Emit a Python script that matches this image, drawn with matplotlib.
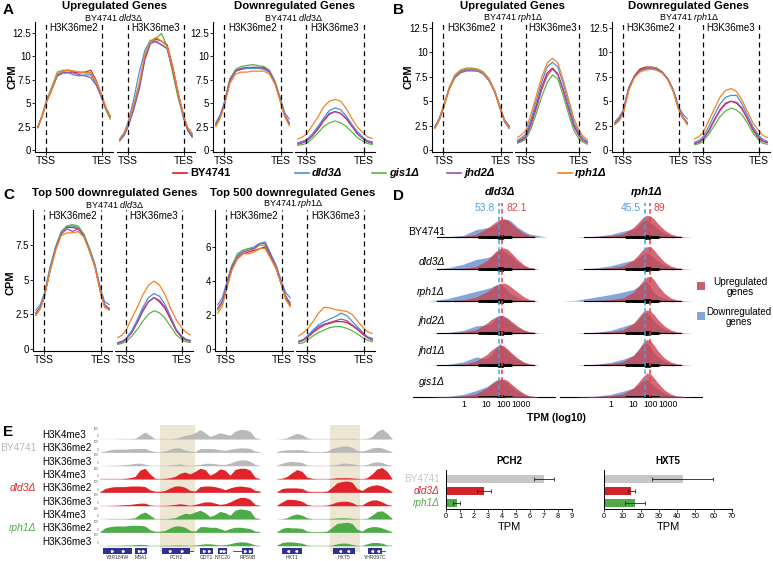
import numpy as np
import matplotlib
matplotlib.use('Agg')
import matplotlib.pyplot as plt
from matplotlib.patches import Rectangle

plt.rcParams['font.family'] = ['Liberation Sans', 'DejaVu Sans']
plt.rcParams['mathtext.fontset'] = 'custom'
plt.rcParams['mathtext.rm'] = 'Liberation Sans'
plt.rcParams['mathtext.it'] = 'Liberation Sans:italic'
plt.rcParams['mathtext.bf'] = 'Liberation Sans:bold'

# ---------------- data ----------------
STRAINS = ['BY4741', 'dld3Δ', 'gis1Δ', 'jhd2Δ', 'rph1Δ']
COLORS = ['#e41a1c', '#4a8fdb', '#5cb545', '#9a4fb0', '#f58220']

# metagene position (0 = TSS, 1 = TES)
PX = [-0.15, -0.07, 0.0, 0.1, 0.2, 0.3, 0.4, 0.5, 0.6, 0.7, 0.8, 0.9, 1.0, 1.07, 1.15]

# CPM profiles, rows in STRAINS order
A_UP_ME2 = [
    [2.4, 3.7, 5.1, 6.5, 8.0, 8.4, 8.5, 8.3, 8.2, 8.3, 8.5, 7.4, 5.8, 4.5, 3.6],
    [2.5, 3.7, 5.2, 6.6, 7.9, 8.2, 8.2, 8.0, 7.9, 8.0, 8.0, 7.1, 5.6, 4.4, 3.5],
    [2.4, 3.6, 5.1, 6.7, 8.3, 8.5, 8.5, 8.4, 8.3, 8.3, 8.2, 7.3, 5.6, 4.3, 3.3],
    [2.4, 3.6, 5.0, 6.4, 7.9, 8.2, 8.3, 8.2, 8.0, 7.9, 7.7, 6.9, 5.5, 4.5, 3.6],
    [2.4, 3.6, 5.1, 6.5, 8.1, 8.4, 8.5, 8.4, 8.3, 8.2, 8.2, 7.3, 5.8, 4.6, 3.6]]
A_UP_ME3 = [
    [1.1, 1.7, 2.7, 4.6, 6.8, 9.8, 11.5, 11.8, 11.6, 11.2, 8.9, 6.0, 3.6, 2.3, 1.6],
    [1.2, 1.9, 3.0, 5.4, 8.3, 10.6, 11.7, 11.5, 11.2, 10.8, 8.4, 5.7, 3.3, 2.1, 1.4],
    [1.0, 1.6, 2.6, 4.5, 6.9, 10.0, 11.5, 11.9, 12.4, 11.0, 8.2, 5.5, 3.4, 2.3, 1.6],
    [1.0, 1.6, 2.5, 4.3, 6.5, 9.6, 11.3, 11.6, 11.2, 10.8, 8.6, 5.8, 3.4, 2.1, 1.4],
    [1.1, 1.8, 2.8, 4.9, 7.2, 10.2, 11.6, 12.0, 11.6, 11.0, 8.8, 6.0, 3.6, 2.4, 1.8]]
A_DOWN_ME2 = [
    [2.7, 3.6, 4.9, 7.4, 8.4, 8.6, 8.7, 8.8, 8.8, 8.7, 8.3, 7.1, 5.2, 3.7, 2.9],
    [2.9, 3.8, 5.1, 7.6, 8.5, 8.7, 8.7, 8.7, 8.7, 8.6, 8.3, 7.2, 5.4, 4.0, 3.3],
    [2.7, 3.6, 4.9, 7.5, 8.6, 8.9, 9.0, 9.1, 9.0, 8.9, 8.5, 7.3, 5.2, 3.7, 2.8],
    [2.7, 3.6, 4.9, 7.4, 8.4, 8.7, 8.8, 8.8, 8.8, 8.8, 8.4, 7.2, 5.1, 3.7, 2.8],
    [2.5, 3.4, 4.7, 7.1, 8.1, 8.3, 8.3, 8.4, 8.4, 8.4, 8.1, 7.0, 5.0, 3.6, 2.6]]
A_DOWN_ME3 = [
    [0.65, 0.8, 0.95, 1.5, 2.2, 3.1, 3.8, 4.1, 3.9, 3.3, 2.5, 1.7, 1.2, 0.9, 0.75],
    [0.8, 0.95, 1.1, 1.7, 2.5, 3.4, 4.2, 4.5, 4.3, 3.6, 2.7, 1.9, 1.3, 1.0, 0.9],
    [0.5, 0.6, 0.7, 1.2, 1.8, 2.5, 2.9, 3.1, 2.9, 2.5, 1.9, 1.3, 0.9, 0.7, 0.6],
    [0.65, 0.8, 0.95, 1.5, 2.3, 3.2, 3.9, 4.1, 3.9, 3.4, 2.5, 1.7, 1.15, 0.9, 0.75],
    [1.17, 1.4, 1.7, 2.6, 3.5, 4.6, 5.2, 5.4, 5.2, 4.4, 3.3, 2.4, 1.8, 1.4, 1.25]]
B_UP_ME2 = [
    [2.3, 3.2, 4.4, 6.3, 7.5, 8.1, 8.2, 8.3, 8.2, 7.9, 7.2, 6.0, 4.2, 3.0, 2.4],
    [2.4, 3.3, 4.5, 6.3, 7.4, 7.9, 8.1, 8.1, 8.1, 7.8, 7.1, 6.0, 4.3, 3.1, 2.5],
    [2.3, 3.2, 4.4, 6.4, 7.7, 8.2, 8.4, 8.4, 8.3, 8.0, 7.3, 6.0, 4.1, 2.9, 2.2],
    [2.3, 3.1, 4.3, 6.2, 7.5, 8.0, 8.2, 8.2, 8.1, 7.8, 7.1, 5.9, 4.1, 2.9, 2.3],
    [2.2, 3.1, 4.3, 6.3, 7.6, 8.1, 8.3, 8.3, 8.2, 7.9, 7.2, 6.0, 4.2, 3.0, 2.3]]
B_UP_ME3 = [
    [0.9, 1.1, 1.4, 2.8, 4.6, 6.5, 7.9, 8.4, 7.8, 6.2, 4.3, 2.5, 1.5, 1.0, 0.8],
    [1.0, 1.3, 1.6, 3.2, 5.1, 7.0, 8.5, 9.0, 8.5, 6.8, 4.8, 2.8, 1.7, 1.2, 0.9],
    [0.7, 0.9, 1.1, 2.2, 3.8, 5.5, 6.9, 7.7, 7.3, 5.6, 3.7, 2.0, 1.1, 0.8, 0.6],
    [0.8, 1.0, 1.3, 2.6, 4.3, 6.2, 7.6, 8.3, 7.7, 6.1, 4.2, 2.4, 1.4, 1.0, 0.75],
    [1.3, 1.6, 2.0, 3.7, 5.6, 7.5, 8.9, 9.4, 8.9, 7.2, 5.2, 3.2, 2.0, 1.4, 1.1]]
B_DOWN_ME2 = [
    [2.7, 3.2, 3.9, 6.3, 7.6, 8.3, 8.5, 8.5, 8.4, 8.0, 7.3, 6.1, 4.2, 3.4, 2.8],
    [2.9, 3.4, 4.1, 6.4, 7.5, 8.1, 8.3, 8.3, 8.2, 7.9, 7.3, 6.2, 4.4, 3.7, 3.2],
    [2.7, 3.1, 3.8, 6.2, 7.5, 8.2, 8.4, 8.5, 8.4, 8.0, 7.3, 6.0, 4.1, 3.3, 2.7],
    [2.7, 3.1, 3.9, 6.3, 7.5, 8.2, 8.4, 8.4, 8.3, 8.0, 7.3, 6.1, 4.2, 3.4, 2.7],
    [2.6, 3.0, 3.7, 6.1, 7.4, 8.0, 8.2, 8.3, 8.2, 7.9, 7.2, 6.0, 4.1, 3.3, 2.6]]
B_DOWN_ME3 = [
    [0.7, 0.85, 1.15, 2.0, 3.1, 4.1, 4.8, 5.0, 4.8, 4.2, 3.1, 2.0, 1.2, 0.9, 0.75],
    [0.8, 1.0, 1.35, 2.4, 3.6, 4.7, 5.4, 5.6, 5.6, 4.7, 3.5, 2.3, 1.5, 1.1, 0.9],
    [0.55, 0.65, 0.9, 1.6, 2.5, 3.4, 4.0, 4.3, 4.1, 3.6, 2.7, 1.7, 1.0, 0.7, 0.6],
    [0.65, 0.8, 1.1, 1.9, 3.0, 4.0, 4.7, 5.0, 4.9, 4.3, 3.2, 2.1, 1.3, 0.95, 0.8],
    [1.15, 1.4, 1.8, 3.0, 4.2, 5.4, 6.1, 6.3, 6.0, 5.1, 3.9, 2.7, 2.0, 1.5, 1.3]]
C_DLD3_ME2 = [
    [2.5, 3.0, 3.8, 5.7, 7.3, 8.4, 8.8, 8.8, 8.7, 8.2, 7.2, 6.0, 4.1, 3.1, 2.9],
    [2.8, 3.2, 4.0, 5.9, 7.4, 8.5, 8.9, 8.9, 8.8, 8.3, 7.3, 6.1, 4.3, 3.4, 3.2],
    [2.5, 2.9, 3.8, 5.7, 7.3, 8.4, 8.9, 9.0, 8.9, 8.3, 7.2, 6.0, 4.0, 3.1, 2.8],
    [2.6, 3.0, 3.8, 5.6, 7.2, 8.3, 8.7, 8.5, 8.7, 8.2, 7.1, 5.9, 4.1, 3.2, 2.9],
    [2.4, 2.9, 3.7, 5.6, 7.1, 8.2, 8.4, 8.4, 8.5, 8.1, 7.1, 5.9, 4.0, 3.0, 2.8]]
C_DLD3_ME3 = [
    [0.4, 0.5, 0.7, 1.2, 1.9, 2.8, 3.4, 3.7, 3.4, 2.9, 2.1, 1.3, 0.8, 0.65, 0.55],
    [0.45, 0.55, 0.75, 1.3, 2.1, 3.0, 3.7, 4.0, 3.8, 3.2, 2.3, 1.4, 0.9, 0.7, 0.6],
    [0.3, 0.4, 0.5, 0.9, 1.4, 2.0, 2.5, 2.75, 2.6, 2.2, 1.6, 1.0, 0.65, 0.5, 0.45],
    [0.4, 0.5, 0.7, 1.15, 1.9, 2.7, 3.4, 3.7, 3.5, 3.0, 2.2, 1.3, 0.85, 0.65, 0.55],
    [0.8, 1.0, 1.35, 2.2, 3.0, 3.9, 4.6, 4.9, 4.6, 3.9, 2.9, 2.1, 1.5, 1.2, 1.0]]
C_RPH1_ME2 = [
    [2.3, 2.7, 3.5, 4.7, 5.3, 5.6, 5.7, 5.8, 5.9, 6.0, 5.4, 4.7, 3.7, 3.0, 2.6],
    [2.6, 3.0, 3.8, 4.9, 5.5, 5.8, 5.9, 6.0, 6.2, 6.3, 5.6, 4.9, 3.9, 3.3, 3.0],
    [2.3, 2.7, 3.5, 4.8, 5.6, 5.8, 5.9, 5.9, 6.1, 6.1, 5.5, 4.8, 3.7, 2.9, 2.5],
    [2.4, 2.8, 3.6, 4.8, 5.4, 5.7, 5.8, 5.9, 6.2, 6.2, 5.5, 4.8, 3.8, 3.1, 2.7],
    [2.1, 2.5, 3.4, 4.6, 5.3, 5.6, 5.6, 5.7, 5.9, 5.9, 5.3, 4.7, 3.7, 2.9, 2.5]]
C_RPH1_ME3 = [
    [0.4, 0.5, 0.65, 0.95, 1.2, 1.4, 1.5, 1.6, 1.6, 1.55, 1.35, 1.1, 0.8, 0.65, 0.5],
    [0.45, 0.55, 0.75, 1.1, 1.4, 1.6, 1.75, 1.9, 2.1, 1.95, 1.6, 1.25, 0.9, 0.7, 0.6],
    [0.3, 0.35, 0.5, 0.75, 0.95, 1.1, 1.25, 1.3, 1.3, 1.2, 1.05, 0.85, 0.6, 0.5, 0.4],
    [0.4, 0.5, 0.7, 1.0, 1.3, 1.45, 1.55, 1.65, 1.75, 1.65, 1.4, 1.15, 0.85, 0.65, 0.55],
    [0.75, 0.95, 1.15, 1.6, 2.1, 2.45, 2.4, 2.3, 2.25, 2.2, 2.0, 1.6, 1.2, 1.0, 0.9]]

# ---- panel D: densities over log10(TPM) ----
D_ROWS = ['BY4741', 'dld3Δ', 'rph1Δ', 'jhd2Δ', 'jhd1Δ', 'gis1Δ']
D_U = [-1.3, -1, -0.5, 0, 0.5, 1, 1.25, 1.5, 1.75, 2, 2.25, 2.5, 3, 3.5, 4, 5, 6]
D_LEFT_UP = [
    [0, 0, 0, 0.02, 0.08, 0.26, 0.37, 0.47, 0.54, 0.57, 0.54, 0.44, 0.26, 0.12, 0.05, 0, 0],
    [0, 0, 0, 0.02, 0.08, 0.25, 0.40, 0.55, 0.63, 0.66, 0.62, 0.52, 0.30, 0.14, 0.05, 0, 0],
    [0, 0, 0.01, 0.04, 0.12, 0.28, 0.38, 0.48, 0.55, 0.56, 0.52, 0.44, 0.28, 0.14, 0.05, 0, 0],
    [0, 0, 0.01, 0.03, 0.10, 0.30, 0.42, 0.50, 0.55, 0.53, 0.47, 0.38, 0.22, 0.10, 0.04, 0, 0],
    [0, 0, 0.01, 0.03, 0.12, 0.32, 0.46, 0.56, 0.62, 0.60, 0.50, 0.40, 0.22, 0.10, 0.04, 0, 0],
    [0, 0, 0.01, 0.03, 0.10, 0.28, 0.40, 0.50, 0.55, 0.56, 0.52, 0.42, 0.25, 0.12, 0.04, 0, 0]]
D_LEFT_DOWN = [
    [0, 0, 0.01, 0.05, 0.23, 0.29, 0.31, 0.40, 0.50, 0.54, 0.55, 0.50, 0.31, 0.19, 0.10, 0.04, 0],
    [0, 0, 0.04, 0.15, 0.30, 0.35, 0.40, 0.50, 0.60, 0.58, 0.50, 0.40, 0.22, 0.10, 0.04, 0, 0],
    [0, 0, 0.08, 0.20, 0.30, 0.38, 0.43, 0.50, 0.53, 0.45, 0.32, 0.22, 0.10, 0.04, 0.01, 0, 0],
    [0, 0, 0.02, 0.08, 0.22, 0.25, 0.30, 0.45, 0.55, 0.52, 0.42, 0.32, 0.18, 0.09, 0.04, 0.01, 0],
    [0, 0, 0.02, 0.10, 0.25, 0.20, 0.30, 0.50, 0.68, 0.55, 0.45, 0.35, 0.18, 0.08, 0.03, 0, 0],
    [0, 0, 0.02, 0.08, 0.20, 0.32, 0.42, 0.52, 0.56, 0.52, 0.45, 0.35, 0.18, 0.08, 0.03, 0, 0]]
D_RIGHT_UP = [
    [0, 0, 0.02, 0.04, 0.10, 0.30, 0.45, 0.60, 0.68, 0.65, 0.55, 0.42, 0.22, 0.10, 0.04, 0.01, 0],
    [0, 0, 0.02, 0.04, 0.10, 0.28, 0.44, 0.60, 0.70, 0.70, 0.58, 0.44, 0.22, 0.10, 0.04, 0.01, 0],
    [0, 0, 0.02, 0.04, 0.10, 0.28, 0.45, 0.62, 0.75, 0.78, 0.65, 0.48, 0.24, 0.10, 0.04, 0.01, 0],
    [0, 0, 0.02, 0.04, 0.10, 0.30, 0.48, 0.65, 0.72, 0.68, 0.56, 0.42, 0.22, 0.10, 0.04, 0.01, 0],
    [0, 0, 0.02, 0.04, 0.10, 0.30, 0.48, 0.68, 0.80, 0.75, 0.60, 0.44, 0.22, 0.10, 0.04, 0.01, 0],
    [0, 0, 0.02, 0.04, 0.10, 0.28, 0.45, 0.62, 0.75, 0.72, 0.58, 0.44, 0.22, 0.10, 0.04, 0.01, 0]]
D_RIGHT_DOWN = [
    [0, 0, 0.02, 0.08, 0.18, 0.25, 0.35, 0.50, 0.55, 0.45, 0.35, 0.25, 0.12, 0.05, 0.02, 0, 0],
    [0, 0, 0.03, 0.10, 0.20, 0.28, 0.36, 0.46, 0.50, 0.44, 0.34, 0.24, 0.12, 0.05, 0.02, 0, 0],
    [0, 0.02, 0.12, 0.20, 0.28, 0.36, 0.45, 0.55, 0.62, 0.40, 0.25, 0.16, 0.08, 0.03, 0.01, 0, 0],
    [0, 0, 0.02, 0.08, 0.20, 0.30, 0.42, 0.58, 0.65, 0.50, 0.36, 0.25, 0.12, 0.05, 0.02, 0, 0],
    [0, 0, 0.02, 0.08, 0.18, 0.30, 0.45, 0.62, 0.70, 0.52, 0.36, 0.25, 0.12, 0.05, 0.02, 0, 0],
    [0, 0, 0.02, 0.08, 0.18, 0.28, 0.38, 0.50, 0.55, 0.45, 0.34, 0.24, 0.12, 0.05, 0.02, 0, 0]]
# interval summaries (log10 TPM): low, q1, median, q3, high
D_Q_UP = [-0.3, 1.0, 1.9, 2.6, 3.8]
D_Q_DOWN = [-0.8, 0.6, 1.7, 2.5, 4.5]
D_MED_LEFT = [53.8, 82.1]   # down, up
D_MED_RIGHT = [45.5, 89]
D_TICKS = [0, 1, 2, 3]
D_TICK_LABELS = ['1', '10', '100', '1000']

# ---- panel E: browser tracks ----
E_STRAINS = ['BY4741', 'dld3Δ', 'rph1Δ']
E_MARKS = ['H3K4me3', 'H3K36me2', 'H3K36me3']
E_COLORS = ['#b9b9b9', '#e0242b', '#4dab48']
E_R1 = [  # region 1 coverage (fraction of 100)
    [0, 0, 0, 0, 0.02, 0.02, 0.02, 0.05, 0.3, 0.55, 0.3, 0.02, 0.02, 0.02, 0.02, 0.05, 0.15, 0.3, 0.35, 0.5, 0.75, 0.5, 0.2, 0.35, 0.5, 0.4, 0.3, 0.6, 0.75, 0.75, 0.6, 0.1, 0.02],
    [0, 0.1, 0.2, 0.25, 0.25, 0.25, 0.28, 0.3, 0.3, 0.32, 0.15, 0.05, 0.05, 0.1, 0.25, 0.35, 0.35, 0.2, 0.1, 0.05, 0.3, 0.3, 0.3, 0.28, 0.2, 0.15, 0.25, 0.3, 0.35, 0.35, 0.3, 0.1, 0.05],
    [0, 0, 0.02, 0.03, 0.05, 0.08, 0.12, 0.18, 0.2, 0.12, 0.03, 0.02, 0.02, 0.02, 0.05, 0.1, 0.15, 0.05, 0.02, 0.05, 0.1, 0.18, 0.2, 0.15, 0.1, 0.1, 0.2, 0.35, 0.45, 0.45, 0.35, 0.1, 0.02],
    [0.02, 0.02, 0.02, 0.02, 0.02, 0.05, 0.1, 0.2, 0.7, 0.85, 0.4, 0.05, 0.02, 0.05, 0.1, 0.2, 0.45, 0.55, 0.4, 0.6, 0.85, 0.75, 0.3, 0.5, 0.8, 0.7, 0.3, 0.75, 0.85, 0.85, 0.7, 0.15, 0.02],
    [0.05, 0.3, 0.4, 0.45, 0.45, 0.45, 0.5, 0.5, 0.5, 0.45, 0.2, 0.08, 0.08, 0.15, 0.35, 0.5, 0.5, 0.4, 0.15, 0.1, 0.45, 0.5, 0.5, 0.45, 0.35, 0.2, 0.35, 0.45, 0.5, 0.45, 0.4, 0.15, 0.1],
    [0, 0, 0.02, 0.03, 0.05, 0.08, 0.1, 0.15, 0.2, 0.2, 0.05, 0.02, 0.02, 0.02, 0.05, 0.1, 0.15, 0.1, 0.02, 0.1, 0.2, 0.3, 0.3, 0.2, 0.1, 0.15, 0.3, 0.5, 0.65, 0.65, 0.5, 0.1, 0.02],
    [0, 0, 0.02, 0.02, 0.02, 0.02, 0.05, 0.1, 0.4, 0.55, 0.3, 0.02, 0.02, 0.02, 0.05, 0.1, 0.3, 0.45, 0.4, 0.55, 0.7, 0.5, 0.2, 0.35, 0.6, 0.5, 0.3, 0.7, 0.8, 0.75, 0.65, 0.1, 0.02],
    [0.05, 0.35, 0.45, 0.5, 0.5, 0.5, 0.55, 0.55, 0.55, 0.5, 0.2, 0.08, 0.08, 0.15, 0.35, 0.5, 0.5, 0.4, 0.15, 0.1, 0.45, 0.45, 0.4, 0.4, 0.3, 0.15, 0.3, 0.4, 0.4, 0.35, 0.3, 0.1, 0.05],
    [0, 0, 0.02, 0.02, 0.03, 0.05, 0.05, 0.08, 0.1, 0.08, 0.02, 0.02, 0.02, 0.02, 0.03, 0.05, 0.05, 0.03, 0.02, 0.05, 0.1, 0.15, 0.15, 0.1, 0.05, 0.08, 0.15, 0.25, 0.3, 0.3, 0.2, 0.05, 0.02]]
E_R2 = [  # region 2 coverage
    [0, 0.02, 0.1, 0.3, 0.45, 0.35, 0.1, 0.02, 0.02, 0.02, 0.02, 0.02, 0.05, 0.05, 0.05, 0.05, 0.02, 0.02, 0.05, 0.2, 0.6, 0.8, 0.5, 0.05],
    [0.05, 0.15, 0.2, 0.2, 0.22, 0.2, 0.1, 0.05, 0.05, 0.05, 0.1, 0.3, 0.4, 0.5, 0.5, 0.4, 0.15, 0.1, 0.2, 0.35, 0.4, 0.35, 0.2, 0.05],
    [0.05, 0.2, 0.3, 0.35, 0.3, 0.25, 0.05, 0.02, 0.02, 0.02, 0.02, 0.05, 0.1, 0.2, 0.2, 0.15, 0.05, 0.02, 0.1, 0.25, 0.3, 0.25, 0.1, 0.02],
    [0.02, 0.05, 0.2, 0.5, 0.75, 0.6, 0.15, 0.05, 0.02, 0.02, 0.02, 0.05, 0.1, 0.1, 0.1, 0.08, 0.05, 0.02, 0.1, 0.4, 0.8, 0.9, 0.6, 0.05],
    [0.05, 0.3, 0.35, 0.35, 0.35, 0.3, 0.1, 0.05, 0.05, 0.05, 0.1, 0.4, 0.75, 0.85, 0.9, 0.8, 0.3, 0.15, 0.4, 0.55, 0.6, 0.5, 0.3, 0.05],
    [0.05, 0.3, 0.5, 0.5, 0.45, 0.35, 0.1, 0.02, 0.02, 0.02, 0.05, 0.15, 0.3, 0.35, 0.35, 0.25, 0.05, 0.05, 0.3, 0.45, 0.45, 0.3, 0.1, 0.02],
    [0, 0.02, 0.1, 0.3, 0.4, 0.3, 0.1, 0.02, 0.02, 0.02, 0.02, 0.05, 0.08, 0.1, 0.08, 0.05, 0.02, 0.02, 0.05, 0.3, 0.6, 0.65, 0.4, 0.05],
    [0.05, 0.3, 0.4, 0.35, 0.35, 0.3, 0.1, 0.05, 0.05, 0.05, 0.1, 0.4, 0.7, 0.75, 0.8, 0.7, 0.25, 0.1, 0.35, 0.45, 0.45, 0.35, 0.2, 0.05],
    [0.05, 0.25, 0.3, 0.3, 0.25, 0.2, 0.05, 0.02, 0.02, 0.02, 0.02, 0.05, 0.15, 0.2, 0.2, 0.1, 0.02, 0.02, 0.15, 0.25, 0.25, 0.2, 0.05, 0.02]]
GENES_R1 = ['YBR184W', 'M8A1', 'PCH2', 'GDT1', 'NTC20', 'RPS9B']
GENES_R1_START = [0.6, 7.0, 12.4, 20.0, 23.6, 28.4]
GENES_R1_END = [6.4, 9.4, 18.0, 22.6, 25.4, 30.6]
GENES_R2 = ['HXT1', 'HXT5', 'YHR097C']
GENES_R2_START = [1.0, 11.2, 18.2]
GENES_R2_END = [5.0, 15.6, 21.0]
HIGHLIGHT_R1 = (12.0, 19.0)
HIGHLIGHT_R2 = (10.6, 16.6)

# ---- bar charts ----
BAR_STRAINS = ['BY4741', 'dld3Δ', 'rph1Δ']
BAR_COLORS = ['#c6c6c6', '#cf2429', '#52a94c']
PCH2_TPM = [7.0, 2.7, 0.75]
PCH2_ERR = [0.7, 0.5, 0.25]
HXT5_TPM = [43, 15, 17]
HXT5_ERR = [16.5, 2.0, 5.5]

# ---------------- layout helpers ----------------
W, H = 773, 561
fig = plt.figure(figsize=(W / 100, H / 100), dpi=100)


def ax_px(x0, y0, x1, y1):
    return fig.add_axes([x0 / W, 1 - y1 / H, (x1 - x0) / W, (y1 - y0) / H])


def ftext(x, y, s, **kw):
    kw.setdefault('ha', 'center')
    kw.setdefault('va', 'center')
    fig.text(x / W, 1 - y / H, s, **kw)


def profile(box, data, ylim, yticks, ylabels, strip, show_y):
    ax = ax_px(*box)
    for vals, c in zip(data, COLORS):
        ax.plot(PX, vals, color=c, lw=0.9, solid_joinstyle='round')
    for xv in (0, 1):
        ax.axvline(xv, color='black', lw=0.9, ls=(0, (4, 3)), zorder=5)
    ax.set_xlim(-0.2, 1.2)
    ax.set_ylim(*ylim)
    ax.set_xticks([0, 1])
    ax.set_xticklabels(['TSS', 'TES'], fontsize=7.5)
    ax.spines['top'].set_visible(False)
    ax.spines['right'].set_visible(False)
    for s in ('left', 'bottom'):
        ax.spines[s].set_linewidth(0.8)
    ax.tick_params(length=2, width=0.6, pad=1)
    if show_y:
        ax.set_yticks(yticks)
        ax.set_yticklabels(ylabels, fontsize=7)
    else:
        ax.spines['left'].set_visible(False)
        ax.set_yticks([])
    ax.text(0.5, 0.955, strip, transform=ax.transAxes, ha='center', va='center', fontsize=7)
    ax.patch.set_alpha(0)
    return ax


# ---------------- panel A ----------------
ya = (-0.2, 13.63)
tA = [0, 2.5, 5, 7.5, 10, 12.5]
lA = ['0', '2.5', '5', '7.5', '10', '12.5']
profile((35, 22, 113, 152), A_UP_ME2, ya, tA, lA, 'H3K36me2', True)
profile((117, 22, 195, 152), A_UP_ME3, ya, tA, lA, 'H3K36me3', False)
profile((213, 22, 292, 152), A_DOWN_ME2, ya, tA, lA, 'H3K36me2', True)
profile((295, 22, 375, 152), A_DOWN_ME3, ya, tA, lA, 'H3K36me3', False)

# ---------------- panel B ----------------
yb = (-0.2, 13.12)
profile((432, 22, 512, 152), B_UP_ME2, yb, tA, lA, 'H3K36me2', True)
profile((515, 22, 590, 152), B_UP_ME3, yb, tA, lA, 'H3K36me3', False)
profile((612, 22, 690, 152), B_DOWN_ME2, yb, tA, lA, 'H3K36me2', True)
profile((692, 22, 770, 152), B_DOWN_ME3, yb, tA, lA, 'H3K36me3', False)

# ---------------- panel C ----------------
yc1 = (-0.17, 10.06)
tC1 = [0, 2.5, 5, 7.5]
lC1 = ['0', '2.5', '5', '7.5']
yc2 = (-0.136, 8.18)
tC2 = [0, 2, 4, 6]
lC2 = ['0', '2', '4', '6']
profile((33, 210, 112, 351), C_DLD3_ME2, yc1, tC1, lC1, 'H3K36me2', True)
profile((115, 210, 193, 351), C_DLD3_ME3, yc1, tC1, lC1, 'H3K36me3', False)
profile((215, 210, 293, 351), C_RPH1_ME2, yc2, tC2, lC2, 'H3K36me2', True)
profile((296, 210, 375, 351), C_RPH1_ME3, yc2, tC2, lC2, 'H3K36me3', False)

# titles A-C
bold = dict(fontweight='bold')
ftext(3, 10, 'A', fontsize=11, ha='left', **bold)
ftext(393, 10, 'B', fontsize=11, ha='left', **bold)
ftext(3, 195, 'C', fontsize=11, ha='left', **bold)
ftext(393, 196, 'D', fontsize=11, ha='left', **bold)
ftext(3, 432, 'E', fontsize=11, ha='left', **bold)

for x, t in [(114, 'Upregulated Genes'), (294, 'Downregulated Genes'),
             (513, 'Upregulated Genes'), (689, 'Downregulated Genes')]:
    ftext(x, 5.8, t, fontsize=8.2, **bold)
for x, g in [(114, 'dld3'), (294, 'dld3'), (513, 'rph1'), (689, 'rph1')]:
    ftext(x, 17.2, 'BY4741 $\\it{' + g + '}$Δ', fontsize=6.5)
for x, g in [(115, 'dld3'), (293, 'rph1')]:
    ftext(x, 192.5, 'Top 500 downregulated Genes', fontsize=8.2, **bold)
    ftext(x, 204, 'BY4741 $\\it{' + g + '}$Δ', fontsize=6.5)
ftext(12, 77, 'CPM', fontsize=8, rotation=90, **bold)
ftext(408, 77, 'CPM', fontsize=8, rotation=90, **bold)
ftext(10, 283, 'CPM', fontsize=8, rotation=90, **bold)

# legend
leg_ax = ax_px(0, 165, 773, 181)
leg_ax.set_xlim(0, W)
leg_ax.set_ylim(0, 1)
leg_ax.axis('off')
leg_x = [173, 295, 372, 447, 558]
for name, c, x in zip(STRAINS, COLORS, leg_x):
    leg_ax.plot([x, x + 14], [0.5, 0.5], color=c, lw=1.2)
    style = 'normal' if name == 'BY4741' else 'italic'
    leg_ax.text(x + 17, 0.5, name, ha='left', va='center', fontsize=8,
                fontweight='bold', fontstyle=style)

# ---------------- panel D ----------------
def fwd(u):
    return np.log10(np.asarray(u, dtype=float) + 2.5)


def inv(v):
    return 10 ** np.asarray(v, dtype=float) - 2.5


RED_D = '#c9404c'
BLUE_D = '#6f95d0'
nrow = len(D_ROWS)
row_label_y = [232, 262, 292, 321, 351, 382]
for (x0, x1), ups, downs, meds, title in [
        ((413, 555), D_LEFT_UP, D_LEFT_DOWN, D_MED_LEFT, 'dld3Δ'),
        ((560, 702), D_RIGHT_UP, D_RIGHT_DOWN, D_MED_RIGHT, 'rph1Δ')]:
    ax = ax_px(x0, 200, x1, 397)
    ax.set_xscale('function', functions=(fwd, inv))
    ax.set_xlim(-1.3, 7.0)
    ax.set_ylim(0, (397 - 200) / 32.0)
    for i in range(nrow):
        base = nrow - 1 - i
        up = np.array(ups[i]) * 1.0
        dn = np.array(downs[i]) * 1.0
        z = 2 + i * 3
        ax.fill_between(D_U, base, base + dn, color=BLUE_D, alpha=0.85, lw=0, zorder=z)
        ax.fill_between(D_U, base, base + up, color=RED_D, alpha=0.78, lw=0, zorder=z + 1)
        for q in (D_Q_DOWN, D_Q_UP):
            ax.plot([q[0], q[4]], [base, base], color='black', lw=0.8, zorder=z + 2)
            ax.plot([q[1], q[3]], [base, base], color='black', lw=2.0, zorder=z + 2,
                    solid_capstyle='butt')
            ax.plot([q[2]], [base], 'o', color='black', ms=2.5, zorder=z + 2)
    ud, uu = np.log10(meds[0]), np.log10(meds[1])
    top = (397 - 203) / 32.0
    ax.plot([ud, ud], [0, top], color='#4aa0e6', lw=1.1, ls=(0, (3, 2)), zorder=40)
    ax.plot([uu, uu], [0, top], color='#e0404a', lw=1.1, ls=(0, (3, 2)), zorder=40)
    ax.text(ud - 0.25, (397 - 208) / 32.0, f'{meds[0]:g}', color='#4aa0e6', fontsize=7.5,
            ha='right', va='center')
    ax.text(uu + 0.25, (397 - 208) / 32.0, f'{meds[1]:g}', color='#e0404a', fontsize=7.5,
            ha='left', va='center')
    ax.set_xticks(D_TICKS)
    ax.set_xticklabels(D_TICK_LABELS[:3] + [''], fontsize=6.2)
    # '1000' starts right after '100', as in the reference
    ax.annotate(D_TICK_LABELS[3], xy=(D_TICKS[3], 0), xycoords=('data', 'axes fraction'),
                xytext=(-4.2, -2), textcoords='offset points', ha='left', va='top',
                fontsize=6.2)
    ax.tick_params(axis='x', length=0, pad=2)
    ax.minorticks_off()
    ax.set_yticks([])
    for s in ('top', 'right', 'left'):
        ax.spines[s].set_visible(False)
    ax.spines['bottom'].set_linewidth(0.8)
    ax.patch.set_alpha(0)
    ftext((x0 + x1) / 2 + 16, 192, title, fontsize=8, fontweight='bold', fontstyle='italic')
for r, y in zip(D_ROWS, row_label_y):
    ftext(445, y, r, ha='right', fontsize=7.5,
          fontstyle='normal' if r == 'BY4741' else 'italic')
ftext(556, 418, 'TPM (log10)', fontsize=7.5, **bold)
# legend D
lg = ax_px(690, 270, 773, 330)
lg.set_xlim(0, 83)
lg.set_ylim(60, 0)
lg.axis('off')
lg.add_patch(Rectangle((7, 12), 8, 8, color=RED_D, alpha=0.85, lw=0))
lg.add_patch(Rectangle((7, 42), 8, 8, color=BLUE_D, alpha=0.85, lw=0))
lg.text(50, 17, 'Upregulated\ngenes', ha='center', va='center', fontsize=7.2, linespacing=0.95)
lg.text(49, 47, 'Downregulated\ngenes', ha='center', va='center', fontsize=7.0, linespacing=0.95)

# ---------------- panel E ----------------
HL = '#ece6d2'
for (x0, x1), cov, nb, names, gs, ge, hl, rev in [
        ((100, 260), E_R1, 33, GENES_R1, GENES_R1_START, GENES_R1_END, HIGHLIGHT_R1, False),
        ((277, 392), E_R2, 24, GENES_R2, GENES_R2_START, GENES_R2_END, HIGHLIGHT_R2, True)]:
    ax = ax_px(x0, 424, x1, 560)
    ax.set_xlim(0, nb - 1)
    ax.set_ylim(10.2, 0)
    ax.axis('off')
    ax.axvspan(hl[0], hl[1], ymin=0.06, ymax=0.995, color=HL, lw=0, zorder=0)
    xs = np.arange(nb)
    for t, vals in enumerate(cov):
        base = 1.125 + t
        col = E_COLORS[t // 3]
        ax.fill_between(xs, base, base - np.array(vals) * 0.95, color=col, lw=0, zorder=2)
        ax.plot([0, nb - 1], [base, base], color=col, lw=0.3, alpha=0.5, zorder=2)
        if not rev:
            ax.plot([-0.15, -0.15], [base, base - 0.95], color='#555555', lw=0.4)
            ax.text(-0.25, base - 0.78, '100', fontsize=2.0, ha='right', va='center', color='#555555')
            ax.text(-0.25, base - 0.2, '0', fontsize=2.0, ha='right', va='center', color='#555555')
    for n, s, e in zip(names, gs, ge):
        ax.add_patch(Rectangle((s, 9.3), e - s, 0.42, color='#2e3192', lw=0, zorder=3))
        mk = '<' if rev else '>'
        ax.plot([s + (e - s) * 0.3, s + (e - s) * 0.7], [9.51, 9.51], mk, color='white',
                ms=1.4, zorder=4)
        ax.text((s + e) / 2, 9.98, n, fontsize=3.6, ha='center', va='center', color='#333333')
    if rev:
        ax.plot([21.0, 21.6], [9.51, 9.51], color='#2e3192', lw=0.6)
    else:
        ax.plot([18.0, 18.6], [9.51, 9.51], color='#2e3192', lw=0.6)
        ax.plot([26.6, 28.4], [9.51, 9.51], color='#2e3192', lw=0.6)

track_y = [435, 448, 462, 475, 488, 502, 515, 528, 542]
for t in range(9):
    ftext(42, track_y[t], E_MARKS[t % 3], fontsize=7.1, ha='left')
ftext(36, 448, 'BY4741', fontsize=7.4, ha='right', color=E_COLORS[0])
ftext(36, 488, 'dld3Δ', fontsize=7.4, ha='right', color=E_COLORS[1], fontstyle='italic')
ftext(36, 528, 'rph1Δ', fontsize=7.4, ha='right', color=E_COLORS[2], fontstyle='italic')

# ---------------- bar charts ----------------
for (x0, x1), vals, errs, xmax, title in [
        ((446, 572), PCH2_TPM, PCH2_ERR, 9, 'PCH2'),
        ((604, 732), HXT5_TPM, HXT5_ERR, 70, 'HXT5')]:
    ax = ax_px(x0, 470, x1, 509)
    ypos = np.arange(len(BAR_STRAINS))
    ax.barh(ypos, vals, height=0.68, color=BAR_COLORS, xerr=errs,
            error_kw=dict(ecolor='#222222', elinewidth=0.6, capsize=1.2, capthick=0.6))
    ax.set_ylim(2.5, -0.75)
    ax.set_xlim(0, xmax)
    step = 1 if xmax == 9 else 10
    ax.set_xticks(np.arange(0, xmax + 1, step))
    ax.tick_params(axis='x', labelsize=5.2, length=2, width=0.5, pad=1)
    ax.set_yticks([])
    for s in ('top', 'right'):
        ax.spines[s].set_visible(False)
    ax.spines['left'].set_linewidth(0.7)
    ax.spines['bottom'].set_linewidth(0.7)
    ax.set_xlabel('TPM', fontsize=8, labelpad=1)
    ax.set_title(title, fontsize=7, fontweight='bold', pad=4)
    if title == 'PCH2':
        for i, (s, c) in enumerate(zip(BAR_STRAINS, ['#c8c8c8', '#d42a2f', '#52a94c'])):
            ax.text(-0.45, i, s, ha='right', va='center', fontsize=7.2, color=c,
                    fontstyle='normal' if s == 'BY4741' else 'italic')

fig.savefig('out.png', dpi=100)
